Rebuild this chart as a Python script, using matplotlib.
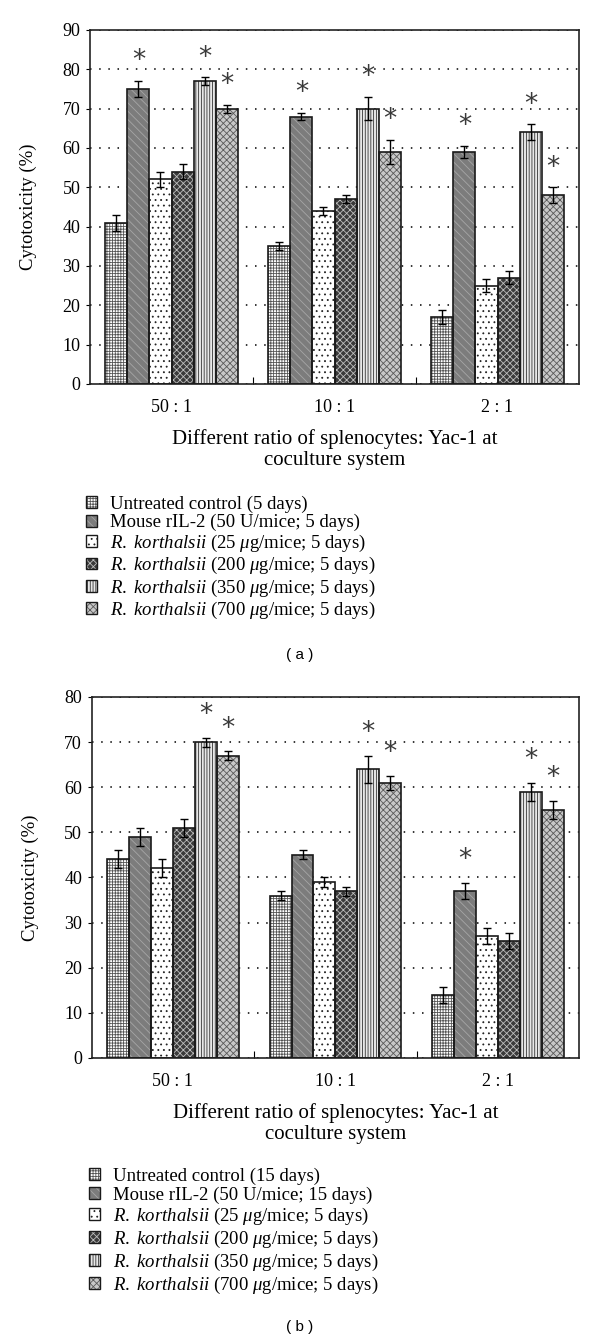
import matplotlib.pyplot as plt
from matplotlib.patches import Patch
import numpy as np

plt.rcParams['font.family'] = ['Liberation Serif', 'DejaVu Serif']
plt.rcParams['mathtext.fontset'] = 'custom'
plt.rcParams['mathtext.rm'] = 'Liberation Serif'
plt.rcParams['mathtext.it'] = 'Liberation Serif:italic'
plt.rcParams['hatch.linewidth'] = 0.6

# data
ratios = ['50 : 1', '10 : 1', '2 : 1']

labels_a = ['Untreated control (5 days)',
            'Mouse rIL-2 (50 U/mice; 5 days)',
            r'$\it{R.}$ $\it{korthalsii}$ (25 $\mu$g/mice; 5 days)',
            r'$\it{R.}$ $\it{korthalsii}$ (200 $\mu$g/mice; 5 days)',
            r'$\it{R.}$ $\it{korthalsii}$ (350 $\mu$g/mice; 5 days)',
            r'$\it{R.}$ $\it{korthalsii}$ (700 $\mu$g/mice; 5 days)']
labels_b = ['Untreated control (15 days)',
            'Mouse rIL-2 (50 U/mice; 15 days)'] + labels_a[2:]

vals_a = [[41, 35, 17], [75, 68, 59], [52, 44, 25],
          [54, 47, 27], [77, 70, 64], [70, 59, 48]]
errs_a = [[2, 1, 1.8], [2, 1, 1.6], [2, 1, 1.6],
          [2, 1, 1.6], [1, 3, 2], [1, 3, 2]]
sig_a = [[0, 0, 0], [1, 1, 1], [0, 0, 0], [0, 0, 0], [1, 1, 1], [1, 1, 1]]

vals_b = [[44, 36, 14], [49, 45, 37], [42, 39, 27],
          [51, 37, 26], [70, 64, 59], [67, 61, 55]]
errs_b = [[2, 1, 1.8], [2, 1, 1.8], [2, 1, 1.8],
          [2, 1, 1.8], [1, 3, 2], [1, 1.5, 2]]
sig_b = [[0, 0, 0], [0, 0, 1], [0, 0, 0], [0, 0, 0], [1, 1, 1], [1, 1, 1]]

# bar styles
faces = ['white', '#7c7c7c', 'white', '#3a3a3a', '#e8e8e8', '#c8c8c8']
hcols = ['#555555', '#a6a6a6', '#222222', '#bdbdbd', '#333333', '#5a5a5a']
hatches = ['++++++', '\\\\\\\\', '...', 'xxxxx', '||||||', 'xxxxx']


def draw(ax, vals, errs, sig, ymax):
    x = np.arange(len(ratios))
    w = 0.135
    for i in range(6):
        pos = x + (i - 2.5) * w
        ax.bar(pos, vals[i], w, color=faces[i], hatch=hatches[i],
               edgecolor=hcols[i], linewidth=0, zorder=2)
        ax.bar(pos, vals[i], w, fill=False, edgecolor='#1a1a1a',
               linewidth=1.2, zorder=3)
        ax.errorbar(pos, vals[i], yerr=errs[i], fmt='none', ecolor='black',
                    capsize=3, elinewidth=1, capthick=1, zorder=4)
        for j in range(3):
            if sig[i][j]:
                ax.text(pos[j], vals[i][j] + errs[i][j] + 5, '*',
                        ha='center', va='center', fontsize=19,
                        family='DejaVu Sans', color='#3a3a3a')
    ax.set_xlim(-0.5, 2.5)
    ax.set_ylim(0, ymax)
    ax.set_yticks(np.arange(0, ymax + 1, 10))
    ax.set_xticks([0.5, 1.5])
    ax.set_xticklabels([])
    ax.set_xticks(x, minor=True)
    ax.set_xticklabels(ratios, minor=True)
    ax.tick_params(axis='x', which='major', direction='in', length=5)
    ax.tick_params(axis='x', which='minor', length=0, pad=11, labelsize=13)
    ax.tick_params(axis='y', direction='out', length=3, pad=4, labelsize=13)
    ax.yaxis.grid(True, linestyle=(0, (1, 5)), color='black', linewidth=1.1)
    ax.set_axisbelow(True)
    for s in ax.spines.values():
        s.set_linewidth(1.2)
        s.set_color('#222222')
    ax.set_ylabel('Cytotoxicity (%)', fontsize=13.5, labelpad=18)
    ax.set_xlabel('Different ratio of splenocytes: Yac-1 at\ncoculture system',
                  fontsize=15, labelpad=9, linespacing=1.15)


def handles():
    hs = []
    for i in range(6):
        hs.append((Patch(facecolor=faces[i], hatch=hatches[i], edgecolor=hcols[i], linewidth=0),
                   Patch(fill=False, edgecolor='#1a1a1a', linewidth=1)))
    return hs


fig = plt.figure(figsize=(6, 13.44), dpi=100)

ax1 = fig.add_axes([0.15, 0.7143, 0.815, 0.2634])
draw(ax1, vals_a, errs_a, sig_a, 90)
fig.legend(handles(), labels_a, loc='upper left', bbox_to_anchor=(0.13, 0.637),
           frameon=False, borderaxespad=0, handlelength=0.6, handleheight=0.6,
           handletextpad=0.7, labelspacing=0.07, fontsize=13.5)
fig.text(0.5, 0.513, '( a )', ha='center', va='center', fontsize=11,
         family='Liberation Sans')

ax2 = fig.add_axes([0.153, 0.2128, 0.812, 0.2686])
draw(ax2, vals_b, errs_b, sig_b, 80)
fig.legend(handles(), labels_b, loc='upper left', bbox_to_anchor=(0.136, 0.137),
           frameon=False, borderaxespad=0, handlelength=0.6, handleheight=0.6,
           handletextpad=0.7, labelspacing=0.1, fontsize=13.5)
fig.text(0.5, 0.0125, '( b )', ha='center', va='center', fontsize=11,
         family='Liberation Sans')

plt.savefig('out.png', dpi=100)
